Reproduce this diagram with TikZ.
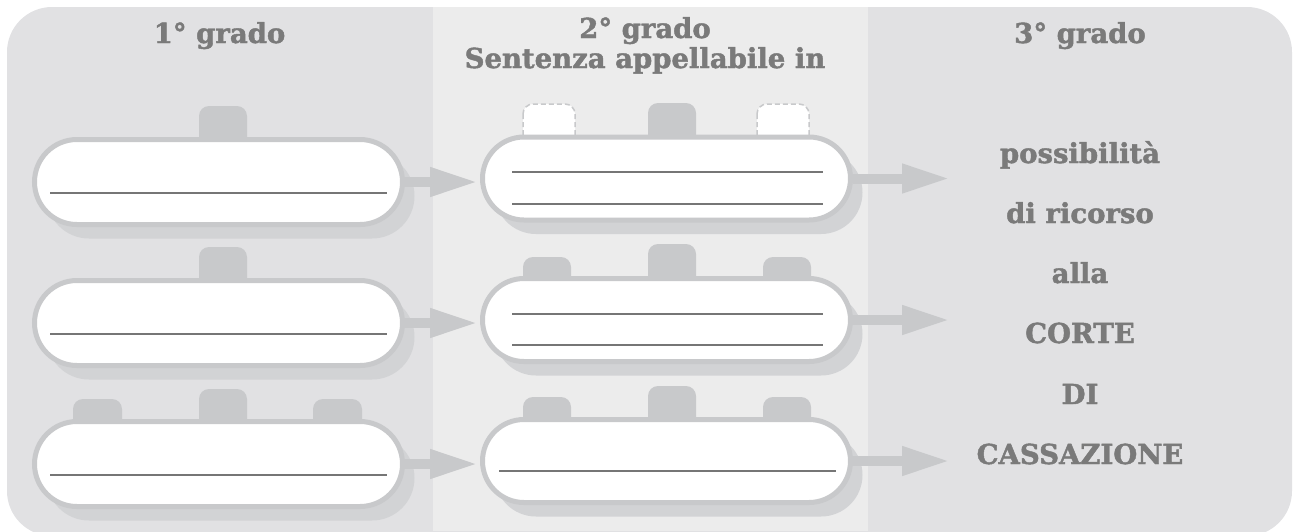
\documentclass[tikz,border=0pt]{standalone}
\usepackage{fontspec}
\setmainfont{DejaVu Serif}[BoldFeatures={FakeBold=1.6}]
\usetikzlibrary{shapes.misc,shadows,arrows.meta}
\definecolor{bgout}{RGB}{225,225,227}
\definecolor{bgmid}{RGB}{236,236,236}
\definecolor{bord}{RGB}{200,201,203}
\definecolor{shad}{RGB}{210,211,213}
\definecolor{txt}{RGB}{122,122,122}
\definecolor{ln}{RGB}{118,118,118}
\begin{document}
\begin{tikzpicture}[x=1pt,y=-1pt,
  capsule/.style={rounded rectangle, draw=bord, line width=5pt, fill=white,
    minimum width=368pt, inner sep=0pt,
    drop shadow={shadow xshift=12pt, shadow yshift=-14pt, fill=shad, opacity=1}},
  lcap/.style={capsule, minimum height=85pt},
  mcap/.style={capsule, minimum height=83pt},
  tabf/.style={fill=bord, rounded corners=10pt},
  tabd/.style={fill=white, draw=bord, line width=1.5pt, dash pattern=on 5pt off 3pt, rounded corners=10pt},
  wline/.style={draw=ln, line width=2pt},
  conn/.style={draw=bord, line width=10pt, -{Triangle[length=48pt,width=27pt]}},
  hdr/.style={text=txt, font=\bfseries\fontsize{27.5}{32}\selectfont, inner sep=0pt, anchor=base},
  rtxt/.style={text=txt, font=\bfseries\fontsize{27.5}{32}\selectfont, inner sep=0pt, anchor=base}]
\useasboundingbox (0,0) rectangle (1294,531);
\clip (0,0) rectangle (1294,531);
% backgrounds
\fill[bgout, rounded corners=45pt] (7,7) rectangle (1292,536);
\fill[bgmid] (433,7) rectangle (868,531);
% headers
\node[hdr] (h1) at (219.5,43) {1° grado};
\node[hdr] (h2) at (645,38) {2° grado};
\node[hdr] (h2b) at (645,68) {Sentenza appellabile in};
\node[hdr] (h3) at (1080,43) {3° grado};
% tabs (left column)
\fill[tabf] (199,106) rectangle (247,180);
\fill[tabf] (199,247) rectangle (247,320);
\fill[tabf] (199,389) rectangle (247,460);
\fill[tabf] (73,399) rectangle (122,460);
\fill[tabf] (313,399) rectangle (362,460);
% tabs (middle column)
\path[tabd] (523,104) rectangle (575,175);
\fill[tabf] (648,103) rectangle (696,175);
\path[tabd] (757,104) rectangle (809,175);
\fill[tabf] (523,257) rectangle (571,320);
\fill[tabf] (648,244) rectangle (696,320);
\fill[tabf] (763,257) rectangle (811,320);
\fill[tabf] (523,397) rectangle (571,460);
\fill[tabf] (648,386) rectangle (696,460);
\fill[tabf] (763,397) rectangle (811,460);
% capsules
\node[lcap] (l1) at (218.5,182) {};
\node[lcap] (l2) at (218.5,323) {};
\node[lcap] (l3) at (218.5,464) {};
\node[mcap] (m1) at (666.5,178.5) {};
\node[mcap] (m2) at (666.5,320) {};
\node[mcap] (m3) at (666.5,461) {};
% writing lines
\draw[wline] (50,193) -- (387,193);
\draw[wline] (50,334) -- (387,334);
\draw[wline] (50,475) -- (387,475);
\draw[wline] (512,172) -- (823,172);
\draw[wline] (512,203.5) -- (823,203.5);
\draw[wline] (512,313.5) -- (823,313.5);
\draw[wline] (512,345) -- (823,345);
\draw[wline] (499,471) -- (836,471);
% right column text
\coordinate (t) at (950,0);
\node[rtxt] (r1) at (1080,163) {possibilità};
\node[rtxt] (r2) at (1080,223) {di ricorso};
\node[rtxt] (r3) at (1080,283) {alla};
\node[rtxt] (r4) at (1080,343) {CORTE};
\node[rtxt] (r5) at (1080,404) {DI};
\node[rtxt] (r6) at (1080,464) {CASSAZIONE};
% connectors
\draw[conn, shorten >=2pt] (l1.east) -- (l1.east -| m1.west);
\draw[conn, shorten >=2pt] (l2.east) -- (l2.east -| m2.west);
\draw[conn, shorten >=2pt] (l3.east) -- (l3.east -| m3.west);
\draw[conn] (m1.east) -- (m1.east -| t);
\draw[conn] (m2.east) -- (m2.east -| t);
\draw[conn] (m3.east) -- (m3.east -| t);
\end{tikzpicture}
\end{document}
